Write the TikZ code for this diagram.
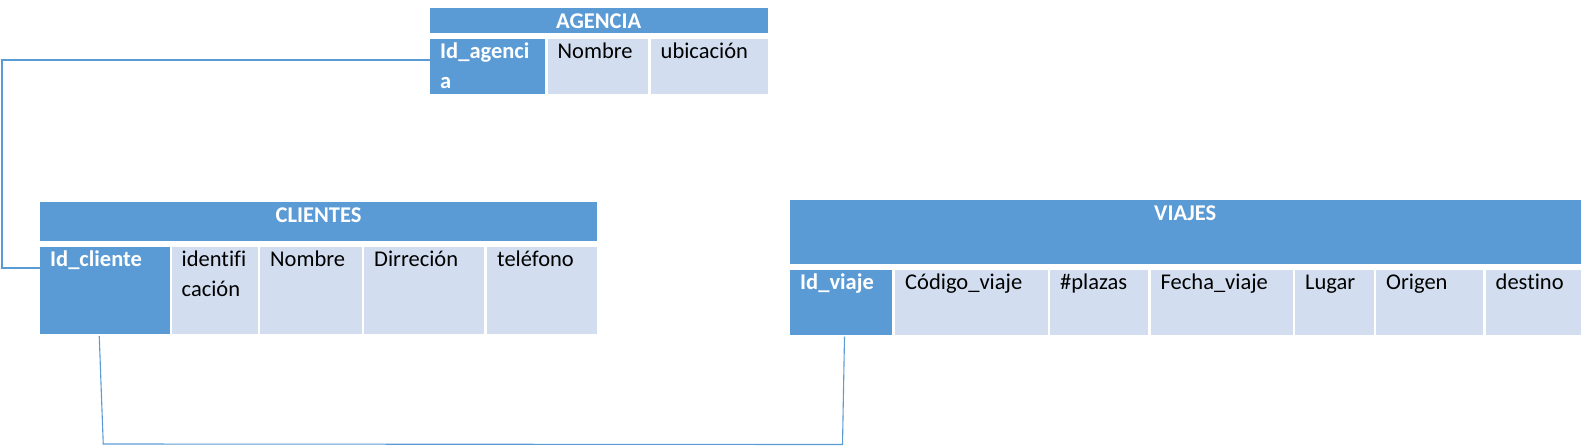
\documentclass[tikz,border=0pt]{standalone}
\usepackage{fontspec}
\setmainfont{Carlito}[Ligatures=NoCommon]
\definecolor{hdrblue}{HTML}{5B9BD5}
\definecolor{celllight}{HTML}{D2DEEF}

\begin{document}
\begin{tikzpicture}[x=1pt,y=-1pt,
  box/.style={rectangle,anchor=north west,inner sep=0pt,outer sep=0pt},
  hdr/.style={box,fill=hdrblue},
  keycell/.style={box,fill=hdrblue},
  cell/.style={box,fill=celllight},
  hdrtext/.style={anchor=north,inner sep=0pt,text height=20.5pt,text=white,font=\fontsize{22.5}{30}\selectfont\bfseries},
  keytext/.style={anchor=north west,inner xsep=10pt,inner ysep=0pt,text height=19.5pt,text width=120pt,align=left,text=white,font=\fontsize{22.5}{30}\selectfont\bfseries},
  celltext/.style={anchor=north west,inner xsep=10pt,inner ysep=0pt,text height=19.5pt,text width=140pt,align=left,font=\fontsize{22.5}{30}\selectfont},
  link/.style={draw=hdrblue,line width=1.1pt}]
\path[use as bounding box] (0,0) rectangle (1587,445);
% AGENCIA
\node[hdr,minimum width=337.5pt,minimum height=25.5pt,label={[hdrtext]north:AGENCIA}] (agHead) at (430,7.5) {};
\node[keycell,minimum width=114.5pt,minimum height=55pt,label={[keytext]north west:Id\_agenci\\a}] (agId) at (430,39) {};
\node[cell,minimum width=100.5pt,minimum height=55pt,label={[celltext]north west:Nombre}] (agNombre) at (547.5,39) {};
\node[cell,minimum width=117pt,minimum height=55pt,label={[celltext]north west:ubicación}] (agUbic) at (650.5,39) {};
% CLIENTES
\node[hdr,minimum width=557pt,minimum height=39.5pt,label={[hdrtext]north:CLIENTES}] (clHead) at (40,201.5) {};
\node[keycell,minimum width=129.5pt,minimum height=87pt,label={[keytext]north west:Id\_cliente}] (clId) at (40,247) {};
\node[cell,minimum width=86pt,minimum height=87pt,label={[celltext]north west:identifi\\cación}] (clIdent) at (171.5,247) {};
\node[cell,minimum width=101.5pt,minimum height=87pt,label={[celltext]north west:Nombre}] (clNombre) at (260,247) {};
\node[cell,minimum width=120pt,minimum height=87pt,label={[celltext]north west:Dirreción}] (clDir) at (364,247) {};
\node[cell,minimum width=110pt,minimum height=87pt,label={[celltext]north west:teléfono}] (clTel) at (487,247) {};
% VIAJES
\node[hdr,minimum width=790.5pt,minimum height=64pt,label={[hdrtext]north:VIAJES}] (vjHead) at (790,199.5) {};
\node[keycell,minimum width=102pt,minimum height=65pt,label={[keytext]north west:Id\_viaje}] (vjId) at (790,269.5) {};
\node[cell,minimum width=152.5pt,minimum height=65pt,label={[celltext]north west:Código\_viaje}] (vjCod) at (895,269.5) {};
\node[cell,minimum width=98pt,minimum height=65pt,label={[celltext]north west:\#plazas}] (vjPlazas) at (1050,269.5) {};
\node[cell,minimum width=142pt,minimum height=65pt,label={[celltext]north west:Fecha\_viaje}] (vjFecha) at (1150.5,269.5) {};
\node[cell,minimum width=78.5pt,minimum height=65pt,label={[celltext]north west:Lugar}] (vjLugar) at (1295,269.5) {};
\node[cell,minimum width=107pt,minimum height=65pt,label={[celltext]north west:Origen}] (vjOrigen) at (1376,269.5) {};
\node[cell,minimum width=95pt,minimum height=65pt,label={[celltext]north west:destino}] (vjDest) at (1485.5,269.5) {};
% relaciones
\draw[link] ([yshift=-21pt]agId.north west) -| ([xshift=-38pt,yshift=-21pt]clId.north west) -- ([yshift=-21pt]clId.north west);
\draw[link] ([xshift=-5.5pt,yshift=-2pt]clId.south) -- ([xshift=-1.5pt,yshift=-110pt]clId.south) -- ([xshift=1.5pt,yshift=-110pt]vjId.south) -- ([xshift=3.5pt,yshift=-2pt]vjId.south);
\end{tikzpicture}
\end{document}
